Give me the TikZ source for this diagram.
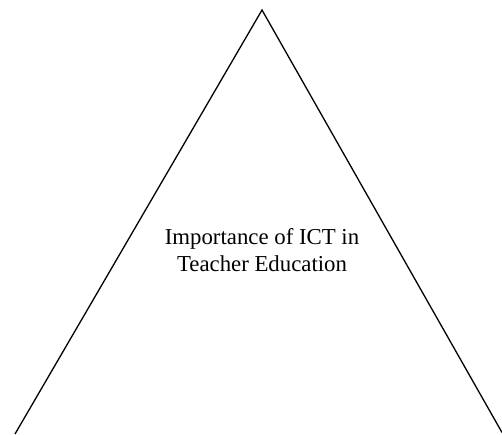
\documentclass[tikz,border=0pt]{standalone}
\usepackage{fontspec}
\setmainfont{Liberation Serif}
\begin{document}
\begin{tikzpicture}[x=1pt,y=-1pt,
  side/.style={line width=1.3pt},
  label/.style={align=center,font=\fontsize{22.8}{26.5}\selectfont}]
  \useasboundingbox (0,0) rectangle (502,434);

  % Corners
  \coordinate (apex) at (262,10);
  \coordinate (left) at (15,434);
  \coordinate (right) at (502,432.5);

  % Sides
  \draw[side] (left) -- (apex) -- (right);

  % Caption
  \node[label] (title) at (262,250) {Importance of ICT in\\Teacher Education};
\end{tikzpicture}
\end{document}
